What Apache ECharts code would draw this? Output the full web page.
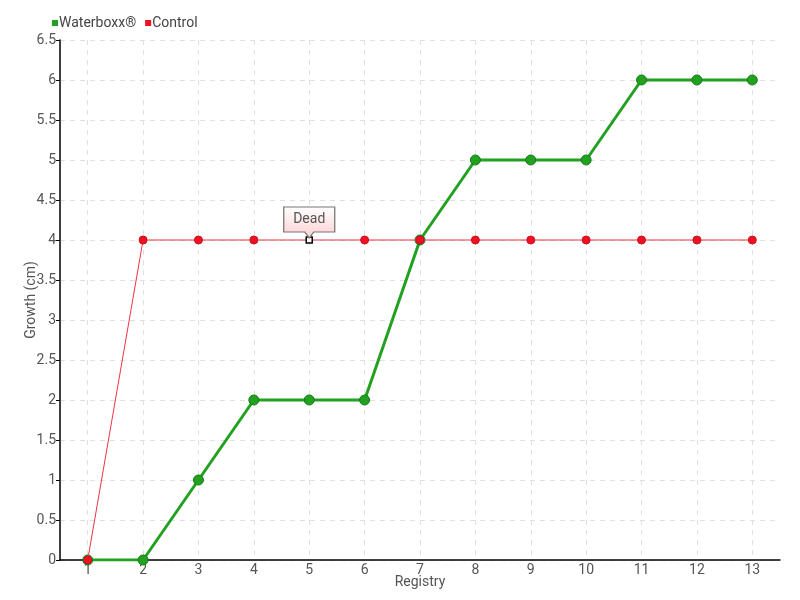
<!DOCTYPE html>
<html><head><meta charset="utf-8">
<script src="https://cdn.jsdelivr.net/npm/echarts@6/dist/echarts.min.js"></script>
<style>html,body{margin:0;padding:0;background:#fff}#c{width:800px;height:600px}</style>
</head><body><div id="c"></div>
<script>
const categories = ['1','2','3','4','5','6','7','8','9','10','11','12','13'];
const waterboxx = [0,0,1,2,2,2,4,5,5,5,6,6,6];
const control = [0,4,4,4,4,4,4,4,4,4,4,4,4];
const deadIndex = 4;
const yTicks = {min:0, max:6.5, interval:0.5};

const FONT = "Roboto,sans-serif";
const chart = echarts.init(document.getElementById('c'), null, {renderer:'canvas'});

const controlData = control.map((v,i)=> i===deadIndex ? {
  value:v, symbol:'rect', symbolSize:6,
  itemStyle:{color:'#fff', borderColor:'#000', borderWidth:1.5}
} : v);

chart.setOption({
  animation:false,
  backgroundColor:'#fff',
  textStyle:{fontFamily:FONT},
  legend:{
    left:47, top:11, itemWidth:6, itemHeight:6, itemGap:9,
    icon:'rect',
    itemStyle:{borderWidth:0},
    textStyle:{color:'#444', fontSize:14, fontFamily:FONT, padding:[0,0,0,-4]},
    data:['Waterboxx®','Control']
  },
  grid:{left:60, right:20, top:40, bottom:40, outerBoundsMode:'none', containLabel:false},
  xAxis:{
    type:'category', data:categories, boundaryGap:true,
    name:'Registry', nameLocation:'middle', nameGap:15, nameMoveOverlap:false,
    nameTextStyle:{color:'#555', fontSize:14, fontFamily:FONT},
    axisLine:{lineStyle:{color:'#000', width:1.5}},
    axisTick:{alignWithLabel:true, length:5, lineStyle:{color:'#000'}},
    axisLabel:{color:'#555', fontSize:14, margin:3, fontFamily:FONT},
    splitLine:{show:true, alignWithLabel:true, lineStyle:{color:'#e0e0e0', type:[5,5]}}
  },
  yAxis:{
    type:'value', min:yTicks.min, max:yTicks.max, interval:yTicks.interval,
    name:'Growth (cm)', nameLocation:'middle', nameGap:22, nameMoveOverlap:false,
    nameTextStyle:{color:'#555', fontSize:14, fontFamily:FONT},
    axisLine:{show:true, lineStyle:{color:'#000', width:1.5}},
    axisTick:{show:true, length:4, lineStyle:{color:'#000'}},
    axisLabel:{color:'#555', fontSize:14, margin:4, fontFamily:FONT},
    splitLine:{show:true, lineStyle:{color:'#e0e0e0', type:[5,5]}}
  },
  series:[
    {
      name:'Control', type:'line', data:controlData, z:3,
      symbol:'circle', symbolSize:8,
      lineStyle:{color:'#ee3344', width:1},
      itemStyle:{color:'#ee1122', borderColor:'#cc1122', borderWidth:1},
      markPoint:{
        symbol:'path://M0 0 H51 V25 H30 L25.5 31 L21 25 H0 Z',
        symbolSize:[51,31], symbolOffset:[0,-17.5], symbolKeepAspect:false,
        itemStyle:{
          color:new echarts.graphic.LinearGradient(0,0,0,1,[{offset:0,color:'#ffffff'},{offset:1,color:'#fdcfcf'}]),
          borderColor:'#777', borderWidth:1
        },
        label:{show:true, formatter:'Dead', color:'#555', fontSize:14, fontFamily:FONT, offset:[0,-3]},
        data:[{coord:[categories[deadIndex], control[deadIndex]]}]
      }
    },
    {
      name:'Waterboxx®', type:'line', data:waterboxx, z:2,
      symbol:'circle', symbolSize:10,
      lineStyle:{color:'#22a020', width:3},
      itemStyle:{color:'#22a020', borderColor:'#187a18', borderWidth:1}
    }
  ]
});
</script></body></html>
